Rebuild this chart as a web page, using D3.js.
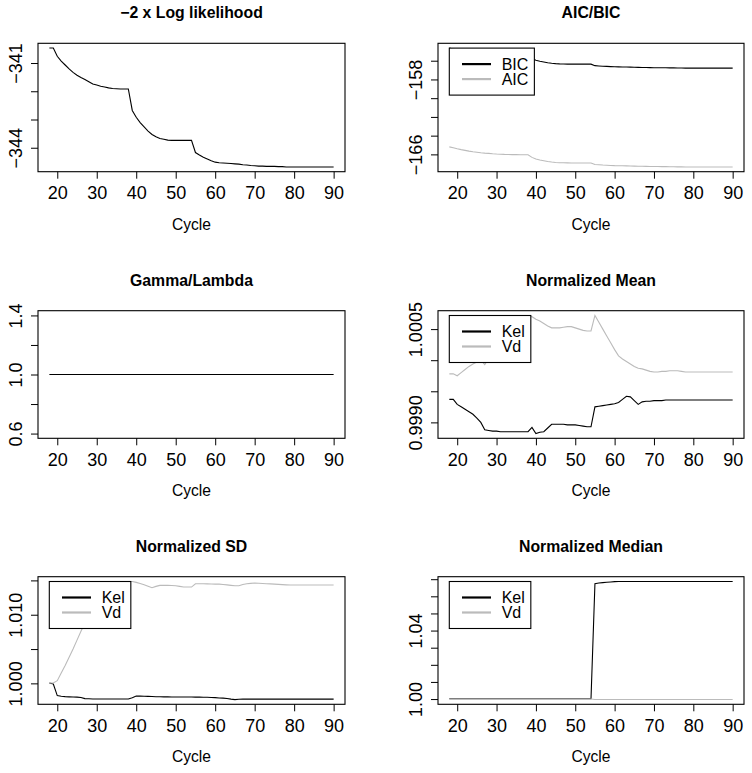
<!DOCTYPE html>
<html>
<head>
<meta charset="utf-8">
<script src="https://cdn.jsdelivr.net/npm/d3@7"></script>
<style>
  body { margin: 0; background: #fff; }
  svg { display: block; }
  text { font-family: "Liberation Sans", Arial, Helvetica, sans-serif; }
</style>
</head>
<body>
<svg id="chart" width="752" height="773"></svg>
<script>
// cycle numbers on the x axis
const cycles = [18,19,20,21,22,23,24,25,26,27,28,29,30,31,32,33,34,35,36,37,38,39,40,41,42,43,44,45,46,47,48,49,50,
  51,52,53,54,55,56,57,58,59,60,61,62,63,64,65,66,67,68,69,70,71,72,73,74,75,76,77,78,79,80,81,82,83,84,85,86,87,88,89,90];
const xTicks = [20, 30, 40, 50, 60, 70, 80, 90];

// -2 x log likelihood
const negLogLik = [-340.47,-340.47,-340.76,-340.93,-341.07,-341.21,-341.33,-341.43,-341.51,-341.58,-341.66,-341.74,-341.78,
  -341.82,-341.85,-341.88,-341.90,-341.91,-341.92,-341.92,-341.92,-342.68,-342.92,-343.11,-343.26,-343.41,-343.53,-343.61,
  -343.67,-343.70,-343.73,-343.74,-343.74,-343.74,-343.74,-343.74,-343.74,-344.17,-344.26,-344.34,-344.40,-344.46,-344.51,
  -344.53,-344.54,-344.55,-344.56,-344.57,-344.58,-344.60,-344.61,-344.63,-344.64,-344.65,-344.65,-344.66,-344.66,-344.66,
  -344.67,-344.67,-344.68,-344.68,-344.68,-344.68,-344.68,-344.68,-344.68,-344.68,-344.68,-344.68,-344.68,-344.68,-344.68];

// AIC / BIC
const bic = [-154.65,-154.75,-154.85,-154.94,-155.02,-155.10,-155.17,-155.22,-155.27,-155.31,-155.34,-155.38,-155.41,
  -155.43,-155.45,-155.46,-155.47,-155.48,-155.49,-155.49,-155.49,-155.77,-155.95,-156.05,-156.13,-156.21,-156.27,-156.31,
  -156.34,-156.35,-156.36,-156.37,-156.37,-156.37,-156.37,-156.37,-156.37,-156.53,-156.56,-156.59,-156.61,-156.63,-156.65,
  -156.66,-156.67,-156.68,-156.69,-156.70,-156.71,-156.72,-156.73,-156.74,-156.75,-156.75,-156.76,-156.76,-156.77,-156.77,
  -156.78,-156.78,-156.79,-156.79,-156.79,-156.79,-156.79,-156.79,-156.79,-156.79,-156.79,-156.79,-156.79,-156.79,-156.79];
const aic = [-165.20,-165.30,-165.40,-165.49,-165.57,-165.65,-165.72,-165.77,-165.82,-165.86,-165.89,-165.93,-165.96,
  -165.98,-166.00,-166.01,-166.02,-166.03,-166.04,-166.04,-166.04,-166.32,-166.50,-166.60,-166.68,-166.76,-166.82,-166.86,
  -166.89,-166.90,-166.91,-166.92,-166.92,-166.92,-166.92,-166.92,-166.92,-167.08,-167.11,-167.14,-167.16,-167.18,-167.20,
  -167.21,-167.22,-167.23,-167.24,-167.25,-167.26,-167.27,-167.28,-167.29,-167.30,-167.30,-167.31,-167.31,-167.32,-167.32,
  -167.33,-167.33,-167.34,-167.34,-167.34,-167.34,-167.34,-167.34,-167.34,-167.34,-167.34,-167.34,-167.34,-167.34,-167.34];

// Gamma/Lambda
const gamma = [1,1,1,1,1,1,1,1,1,1,1,1,1,1,1,1,1,1,1,1,1,1,1,1,1,1,1,1,1,1,1,1,1,1,1,1,1,1,1,1,1,1,1,1,1,1,1,1,1,1,1,
  1,1,1,1,1,1,1,1,1,1,1,1,1,1,1,1,1,1,1,1,1,1];

// normalized mean
const meanKel = [0.99937,0.99937,0.99929,0.99925,0.99921,0.99917,0.99913,0.99907,0.99900,0.99888,0.99887,0.99886,0.99886,
  0.99885,0.99885,0.99885,0.99885,0.99885,0.99885,0.99885,0.99885,0.99892,0.99882,0.99884,0.99885,0.99891,0.99897,0.99897,
  0.99897,0.99897,0.99896,0.99896,0.99896,0.99895,0.99894,0.99893,0.99893,0.99925,0.99926,0.99927,0.99928,0.99929,0.99930,
  0.99932,0.99937,0.99942,0.99941,0.99935,0.99929,0.99933,0.99934,0.99934,0.99935,0.99935,0.99935,0.99936,0.99936,0.99936,
  0.99936,0.99936,0.99936,0.99936,0.99936,0.99936,0.99936,0.99936,0.99936,0.99936,0.99936,0.99936,0.99936,0.99936,0.99936];
const meanVd = [0.99978,0.99978,0.99975,0.99980,0.99985,0.99990,0.99994,0.99997,1.00000,0.99993,1.00003,1.00012,1.00020,
  1.00028,1.00035,1.00042,1.00048,1.00054,1.00060,1.00066,1.00070,1.00070,1.00066,1.00063,1.00059,1.00055,1.00052,1.00052,
  1.00052,1.00053,1.00054,1.00054,1.00052,1.00050,1.00048,1.00047,1.00047,1.00072,1.00061,1.00050,1.00039,1.00028,1.00017,
  1.00007,1.00002,0.99998,0.99994,0.99990,0.99987,0.99986,0.99984,0.99982,0.99981,0.99981,0.99982,0.99982,0.99983,0.99983,
  0.99983,0.99982,0.99981,0.99981,0.99981,0.99981,0.99981,0.99981,0.99981,0.99981,0.99981,0.99981,0.99981,0.99981,0.99981];

// normalized SD
const sdKel = [1.00005,0.99990,0.99822,0.99812,0.99807,0.99804,0.99802,0.99800,0.99795,0.99778,0.99775,0.99773,0.99773,
  0.99773,0.99773,0.99773,0.99773,0.99773,0.99773,0.99773,0.99773,0.99790,0.99817,0.99814,0.99812,0.99810,0.99808,0.99806,
  0.99805,0.99804,0.99803,0.99802,0.99802,0.99802,0.99802,0.99802,0.99802,0.99800,0.99799,0.99798,0.99797,0.99795,0.99792,
  0.99788,0.99785,0.99780,0.99770,0.99764,0.99768,0.99771,0.99771,0.99771,0.99771,0.99771,0.99771,0.99771,0.99771,0.99771,
  0.99771,0.99771,0.99771,0.99771,0.99771,0.99771,0.99771,0.99771,0.99771,0.99771,0.99771,0.99771,0.99771,0.99771,0.99771];
const sdVd = [1.00005,1.00005,1.00039,1.00150,1.00260,1.00380,1.00500,1.00630,1.00760,1.00880,1.00990,1.01090,1.01180,
  1.01260,1.01320,1.01370,1.01410,1.01440,1.01460,1.01475,1.01485,1.01485,1.01471,1.01455,1.01437,1.01415,1.01394,1.01413,
  1.01427,1.01427,1.01427,1.01425,1.01423,1.01413,1.01403,1.01403,1.01403,1.01451,1.01451,1.01451,1.01449,1.01448,1.01446,
  1.01446,1.01440,1.01435,1.01428,1.01422,1.01422,1.01440,1.01451,1.01457,1.01461,1.01458,1.01455,1.01452,1.01449,1.01446,
  1.01442,1.01438,1.01435,1.01433,1.01432,1.01432,1.01432,1.01432,1.01432,1.01432,1.01432,1.01432,1.01432,1.01432,1.01432];

// normalized median
const medKel = [1.0002,1.0002,1.0002,1.0002,1.0002,1.0002,1.0002,1.0002,1.0002,1.0002,1.0002,1.0002,1.0002,1.0002,1.0002,
  1.0002,1.0002,1.0002,1.0002,1.0002,1.0002,1.0002,1.0002,1.0002,1.0002,1.0002,1.0002,1.0002,1.0002,1.0002,1.0002,1.0002,
  1.0002,1.0002,1.0002,1.0002,1.0002,1.0674,1.0678,1.0680,1.0682,1.0684,1.0686,1.0687,1.0687,1.0687,1.0687,1.0687,1.0687,
  1.0687,1.0687,1.0687,1.0687,1.0687,1.0687,1.0687,1.0687,1.0687,1.0687,1.0687,1.0687,1.0687,1.0687,1.0687,1.0687,1.0687,
  1.0687,1.0687,1.0687,1.0687,1.0687,1.0687,1.0687];
const medVd = [1.0000,1.0000,1.0000,1.0000,1.0000,1.0000,1.0000,1.0000,1.0000,1.0000,1.0000,1.0000,1.0000,1.0000,1.0000,
  1.0000,1.0000,1.0000,1.0000,1.0000,1.0000,1.0000,1.0000,1.0000,1.0000,1.0000,1.0000,1.0000,1.0000,1.0000,1.0000,1.0000,
  1.0000,1.0000,1.0000,1.0000,1.0000,0.9997,0.9997,0.9997,0.9997,0.9997,0.9997,0.9997,0.9997,0.9997,0.9997,0.9997,0.9997,
  0.9997,0.9997,0.9997,0.9997,0.9997,0.9997,0.9997,0.9997,0.9997,0.9997,0.9997,0.9997,0.9997,0.9997,0.9997,0.9997,0.9997,
  0.9997,0.9997,0.9997,0.9997,0.9997,0.9997,0.9997];

const grey = '#bbbbbb';
const svg = d3.select('#chart');

// R style axis range: data extent stretched by 4 % on both sides
function padded(values) {
  const [lo, hi] = d3.extent(values);
  if (lo === hi) return [lo - 0.4 * 1.08, hi + 0.4 * 1.08].map((v, i) => i ? hi + 0.432 : lo - 0.432);
  const pad = (hi - lo) * 0.04;
  return [lo - pad, hi + pad];
}

function drawPanel(p) {
  const g = svg.append('g');
  const x = d3.scaleLinear().domain(padded(cycles)).range([p.left, p.right]);
  const allY = p.series.flatMap(s => s.values);
  const y = d3.scaleLinear().domain(padded(allY)).range([p.bottom, p.top]);

  // series lines
  p.series.forEach(s => {
    const line = d3.line().x((d, i) => x(cycles[i])).y(d => y(d));
    g.append('path')
      .datum(s.values)
      .attr('d', line)
      .attr('fill', 'none')
      .attr('stroke', s.color)
      .attr('stroke-width', 1.1);
  });

  // x axis
  const xAxis = g.append('g')
    .attr('transform', 'translate(0,' + p.bottom + ')')
    .call(d3.axisBottom(x).tickValues(xTicks).tickSize(7).tickFormat(d3.format('d')));
  xAxis.select('.domain').remove();
  xAxis.selectAll('line').attr('stroke', '#000');
  xAxis.selectAll('text')
    .attr('y', 27.6).attr('dy', 0)
    .attr('font-size', 18).attr('fill', '#000')
    .style('font-family', '"Liberation Sans", Arial, sans-serif');

  // y axis, labels rotated like R
  const yAxis = g.append('g')
    .attr('transform', 'translate(' + p.left + ',0)')
    .call(d3.axisLeft(y).tickValues(p.yTicks).tickSize(7)
      .tickFormat(d => p.yLabels.includes(d) ? d3.format(p.fmt)(d) : ''));
  yAxis.select('.domain').remove();
  yAxis.selectAll('line').attr('stroke', '#000');
  yAxis.selectAll('text')
    .attr('x', 0).attr('y', -16).attr('dy', 0)
    .attr('transform', 'rotate(-90)')
    .attr('text-anchor', 'middle')
    .attr('font-size', 18).attr('fill', '#000')
    .style('font-family', '"Liberation Sans", Arial, sans-serif');

  // plot box
  g.append('rect')
    .attr('x', p.left).attr('y', p.top)
    .attr('width', p.right - p.left).attr('height', p.bottom - p.top)
    .attr('fill', 'none').attr('stroke', '#000').attr('stroke-width', 1.1);

  // title and x label
  g.append('text')
    .attr('x', (p.left + p.right) / 2).attr('y', p.top - 25)
    .attr('text-anchor', 'middle').attr('font-size', 15.8).attr('font-weight', 'bold')
    .text(p.title);
  g.append('text')
    .attr('x', (p.left + p.right) / 2).attr('y', p.bottom + 58)
    .attr('text-anchor', 'middle').attr('font-size', 15.6)
    .text('Cycle');

  // legend top left, white box over the lines
  if (p.legend) {
    const lx = p.left + 11.3, ly = p.top + 4.8;
    const leg = g.append('g').attr('transform', 'translate(' + lx + ',' + ly + ')');
    const box = leg.append('rect')
      .attr('height', 47).attr('fill', '#fff').attr('stroke', '#000').attr('stroke-width', 1.1);
    let maxW = 0;
    p.series.forEach((s, i) => {
      const yy = 16 + i * 15;
      leg.append('line')
        .attr('x1', 12.7).attr('x2', 41.7).attr('y1', yy).attr('y2', yy)
        .attr('stroke', s.color).attr('stroke-width', 2.2);
      const t = leg.append('text')
        .attr('x', 52.4).attr('y', yy + 5.8)
        .attr('font-size', 16)
        .text(s.name);
      maxW = Math.max(maxW, t.node().getComputedTextLength());
    });
    box.attr('width', 52.4 + maxW + 6);
  }
}

const col1 = { left: 38, right: 345 };
const col2 = { left: 438, right: 744 };
const row1 = { top: 43.3, bottom: 171.7 };
const row2 = { top: 310.7, bottom: 438.3 };
const row3 = { top: 576.7, bottom: 704.3 };

drawPanel(Object.assign({
  title: '\u22122 x Log likelihood',
  series: [{ values: negLogLik, color: '#000' }],
  yTicks: [-341, -342, -343, -344], yLabels: [-341, -344], fmt: '.0f'
}, col1, row1));

drawPanel(Object.assign({
  title: 'AIC/BIC', legend: true,
  series: [{ name: 'BIC', values: bic, color: '#000' }, { name: 'AIC', values: aic, color: grey }],
  yTicks: [-156, -158, -160, -162, -164, -166], yLabels: [-158, -166], fmt: '.0f'
}, col2, row1));

drawPanel(Object.assign({
  title: 'Gamma/Lambda',
  series: [{ values: gamma, color: '#000' }],
  yTicks: [0.6, 0.8, 1.0, 1.2, 1.4], yLabels: [0.6, 1.0, 1.4], fmt: '.1f'
}, col1, row2));

drawPanel(Object.assign({
  title: 'Normalized Mean', legend: true,
  series: [{ name: 'Kel', values: meanKel, color: '#000' }, { name: 'Vd', values: meanVd, color: grey }],
  yTicks: [0.9990, 0.9995, 1.0000, 1.0005], yLabels: [0.9990, 1.0005], fmt: '.4f'
}, col2, row2));

drawPanel(Object.assign({
  title: 'Normalized SD', legend: true,
  series: [{ name: 'Kel', values: sdKel, color: '#000' }, { name: 'Vd', values: sdVd, color: grey }],
  yTicks: [1.000, 1.005, 1.010, 1.015], yLabels: [1.000, 1.010], fmt: '.3f'
}, col1, row3));

drawPanel(Object.assign({
  title: 'Normalized Median', legend: true,
  series: [{ name: 'Kel', values: medKel, color: '#000' }, { name: 'Vd', values: medVd, color: grey }],
  yTicks: [1.00, 1.01, 1.02, 1.03, 1.04, 1.05, 1.06, 1.07], yLabels: [1.00, 1.04], fmt: '.2f'
}, col2, row3));
</script>
</body>
</html>
